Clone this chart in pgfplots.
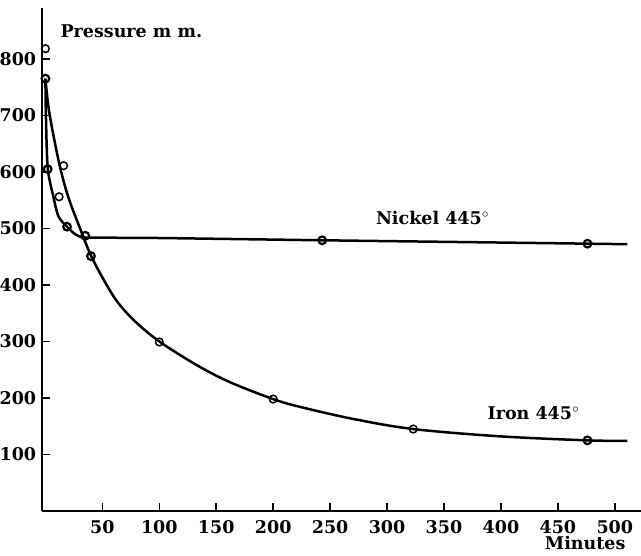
\documentclass[border=0pt]{standalone}
\usepackage{fontspec}
\setmainfont{DejaVu Serif}
\usepackage{pgfplots}
\pgfplotsset{compat=1.18}
\begin{document}
\begin{tikzpicture}[font=\bfseries\fontsize{10.5}{12}\selectfont]
% page frame: 1 px of the reference = 0.6pt
\useasboundingbox (-25.2pt,-26.7pt) rectangle (359.4pt,306.6pt);
\begin{axis}[
  scale only axis,
  width=359.4pt, height=301.8pt,
  xmin=-3, xmax=523, ymin=0, ymax=890,
  axis x line=bottom, axis y line=left,
  axis line style={-, line width=1.2pt},
  xtick={50,100,...,500}, ytick={100,200,...,800},
  tick align=inside, major tick length=5pt,
  tick style={line width=0.9pt, black},
  /pgf/number format/assume math mode=true,
  ticklabel style={font=\bfseries\fontsize{10.5}{12}\selectfont},
  xticklabel style={yshift=-2pt},
  clip=false,
]
% Nickel 445 (steep drop, then flat)
\addplot[line width=1.5pt, smooth, tension=0.45] coordinates {
(0,765) (0.4,704) (2,607) (7,556) (11.5,521) (19,503) (26,490) (34,484)
(60,483.5) (100,483) (243,479) (360,476) (476,473) (511,472)
};
% Iron 445
\addplot[line width=1.5pt, smooth, tension=0.55] coordinates {
(0,765) (3.5,704) (12,616) (20,556) (31,497) (40,452) (52.6,404) (64,368)
(79,335) (100,300) (133,258) (162,228) (200,198) (224,184) (270,163)
(323,145) (400,132) (476,125) (511,124)
};
% observed points, bold rings
\addplot[only marks, mark=o, mark size=2.3pt, line width=1.3pt, mark options={fill=white}] coordinates {
(0,765) (2,605) (19,503) (35,487) (40,451) (243,479) (476,473) (476,125)
};
% observed points, thin rings
\addplot[only marks, mark=o, mark size=2.3pt, line width=0.9pt, mark options={fill=white}] coordinates {
(0,818) (16,611) (12,556) (100,299) (200,198) (323,145)
};
\node[anchor=west, inner sep=0pt] at (axis cs:13,848) {Pressure m m.};
\node[anchor=west, inner sep=0pt] at (axis cs:290,519) {Nickel 445\textsuperscript{$\circ$}};
\node[anchor=west, inner sep=0pt] at (axis cs:388,173) {Iron 445\textsuperscript{$\circ$}};
\node[inner sep=0pt] at (axis cs:474,-57) {Minutes};
\end{axis}
\end{tikzpicture}
\end{document}
